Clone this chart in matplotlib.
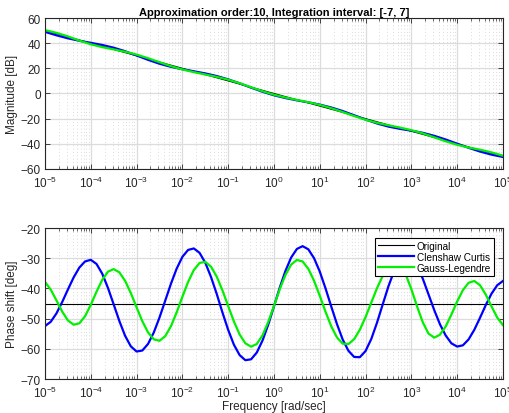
import numpy as np
import matplotlib
matplotlib.use("Agg")
import matplotlib.pyplot as plt
from matplotlib.ticker import LogLocator, NullFormatter

plt.rcParams['font.family'] = ['Liberation Sans', 'DejaVu Sans']
plt.rcParams['mathtext.fontset'] = 'custom'
plt.rcParams['mathtext.rm'] = 'Liberation Sans'
plt.rcParams['mathtext.it'] = 'Liberation Sans:italic'

title = "Approximation order:10, Integration interval: [-7, 7]"
labels = ["Original", "Clenshaw Curtis", "Gauss-Legendre"]

# original s^-0.5 response, straight line on log axis
orig_w = [1e-5, 1e5]
orig_mag = [50, -50]
orig_phase = [-45, -45]

# magnitude samples, quarter-decade steps from 1e-5 to 1e5
mag_logw = np.arange(-5, 5.001, 0.25)
mag_cc = [49.0, 46.25, 43.86, 41.91, 40.28, 38.57, 36.4, 33.58, 30.22, 26.76,
          23.66, 21.2, 19.29, 17.66, 15.97, 13.88, 11.23, 8.06, 4.65, 1.4,
          -1.4, -3.62, -5.41, -7.03, -8.84, -11.1, -13.96, -17.29, -20.71, -23.81,
          -26.31, -28.1, -29.56, -31.26, -33.64, -36.58, -39.87, -43.16, -46.15, -48.59,
          -50.46]
mag_gl = [50.4, 48.2, 45.39, 42.06, 39.1, 36.86, 35.03, 33.18, 30.9, 28.06,
          24.88, 21.78, 19.11, 16.96, 15.12, 13.23, 10.95, 8.14, 4.97, 1.82,
          -0.95, -3.21, -5.1, -6.94, -9.07, -11.68, -14.73, -17.91, -20.85, -23.31,
          -25.28, -27.08, -29.14, -31.73, -34.82, -38.0, -40.8, -42.93, -44.67, -46.8,
          -49.45]

# phase samples, eighth-decade steps from 1e-5 to 1e5
ph_logw = np.arange(-5, 5.001, 0.125)
ph_cc = [-52.47, -51.06, -48.29, -44.54, -40.38, -36.38, -33.10, -31.06, -30.53, -31.89,
         -35.12, -39.82, -45.29, -50.84, -55.71, -59.20, -60.89, -60.57, -58.39, -54.62,
         -49.66, -44.09, -38.46, -33.46, -29.55, -27.25, -26.76, -28.21, -31.48, -36.20,
         -41.82, -47.96, -53.73, -58.64, -62.08, -63.77, -63.48, -61.23, -57.25, -51.98,
         -45.94, -39.80, -34.22, -29.77, -26.93, -26.0, -27.05, -29.98, -34.42, -39.95,
         -45.95, -51.79, -56.90, -60.63, -62.69, -62.78, -60.72, -56.74, -51.34, -45.27,
         -39.27, -34.15, -30.58, -29.05, -29.8, -32.6, -36.8, -42.0, -47.2, -51.9,
         -55.6, -58.2, -59.25, -58.84, -56.88, -53.68, -49.69, -45.51, -41.75, -38.94,
         -37.53]
ph_gl = [-37.86, -40.38, -43.94, -47.65, -50.58, -52.02, -51.56, -49.20, -45.44, -41.11,
         -37.17, -34.46, -33.6, -34.70, -37.50, -41.56, -46.26, -50.84, -54.57, -56.85,
         -57.34, -55.83, -52.53, -47.95, -42.79, -37.86, -33.91, -31.57, -31.20, -32.79,
         -36.09, -40.65, -45.83, -50.94, -55.24, -58.17, -59.29, -58.41, -55.54, -51.12,
         -45.79, -40.32, -35.54, -32.11, -30.56, -31.08, -33.49, -37.47, -42.44, -47.70,
         -52.53, -56.23, -58.29, -58.43, -56.81, -53.69, -49.47, -44.67, -39.91, -35.84,
         -32.91, -31.57, -32.20, -35.29, -40.25, -45.98, -51.25, -54.97, -56.3, -55.31,
         -52.57, -48.63, -44.32, -40.57, -38.13, -37.54, -38.96, -42.04, -45.95, -49.65,
         -52.14]

TXT = '#262626'
fig = plt.figure(figsize=(5.10, 4.14), dpi=100)
ax1 = fig.add_axes([0.0882, 0.5894, 0.898, 0.3647])
ax2 = fig.add_axes([0.0882, 0.0821, 0.898, 0.3647])


def style(ax, yticks):
    ax.set_xscale('log')
    ax.set_xlim(1e-5, 1e5)
    ax.set_ylim(yticks[0], yticks[-1])
    ax.set_yticks(yticks)
    ax.xaxis.set_major_locator(LogLocator(base=10, numticks=20))
    ax.xaxis.set_minor_locator(LogLocator(base=10, subs=np.arange(2, 10), numticks=20))
    ax.xaxis.set_minor_formatter(NullFormatter())
    ax.grid(True, which='major', color='#dcdcdc', lw=0.9, ls='-')
    ax.grid(True, which='minor', axis='x', color='#cfcfcf', lw=0.6, ls=(0, (1, 3)))
    ax.set_axisbelow(True)
    ax.tick_params(which='both', direction='in', top=True, right=True,
                   colors=TXT, labelsize=8.5)
    ax.tick_params(axis='x', which='both', pad=4)
    ax.tick_params(axis='y', which='both', pad=3)
    ax.tick_params(which='major', length=3.5, width=0.6)
    ax.tick_params(which='minor', length=2, width=0.5)
    for s in ax.spines.values():
        s.set_color(TXT)
        s.set_linewidth(0.8)


style(ax1, [-60, -40, -20, 0, 20, 40, 60])
ax1.plot(orig_w, orig_mag, color='k', lw=0.8)
ax1.plot(10 ** mag_logw, mag_cc, color='#0000ff', lw=1.6)
ax1.plot(10 ** mag_logw, mag_gl, color='#00f000', lw=1.6)
ax1.set_ylabel("Magnitude [dB]", fontsize=8.5, color=TXT, labelpad=2)
ax1.set_title(title, fontsize=8, fontweight='bold', color='k', pad=2)

style(ax2, [-70, -60, -50, -40, -30, -20])
ax2.plot(orig_w, orig_phase, color='k', lw=0.8, label=labels[0])
ax2.plot(10 ** ph_logw, ph_cc, color='#0000ff', lw=1.6, label=labels[1])
ax2.plot(10 ** ph_logw, ph_gl, color='#00f000', lw=1.6, label=labels[2])
ax2.set_ylabel("Phase shift [deg]", fontsize=8.5, color=TXT, labelpad=2)
ax2.set_xlabel("Frequency [rad/sec]", fontsize=8.5, color=TXT, labelpad=0)

leg = ax2.legend(loc='upper right', bbox_to_anchor=(0.98, 0.935), fontsize=7.2,
                 frameon=True, fancybox=False, framealpha=1, edgecolor='k',
                 handlelength=3.6, handletextpad=0.3, borderpad=0.3,
                 labelspacing=0.1, borderaxespad=0)
leg.get_frame().set_linewidth(0.8)

fig.savefig("out.png", dpi=100)
